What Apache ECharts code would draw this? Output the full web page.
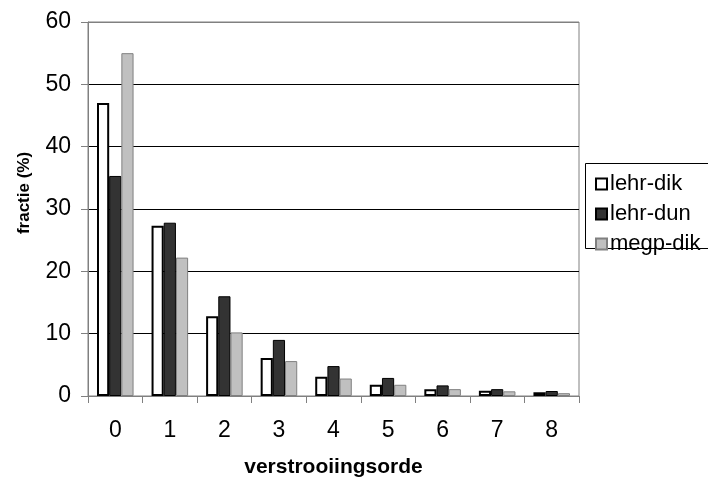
<!DOCTYPE html>
<html>
<head>
<meta charset="utf-8">
<script src="https://cdn.jsdelivr.net/npm/echarts@6/dist/echarts.min.js"></script>
<style>
  html, body { margin: 0; padding: 0; background: #fff; }
  #chart { width: 708px; height: 479px; }
</style>
</head>
<body>
<div id="chart"></div>
<script>
// Scattering orders on the x-axis
const orders = ['0', '1', '2', '3', '4', '5', '6', '7', '8'];
// Fraction (%) per scattering order for each configuration
const lehrDik = [47.0, 27.3, 12.8, 6.1, 3.1, 1.8, 1.1, 0.85, 0.6];
const lehrDun = [35.3, 27.8, 16.0, 9.0, 4.8, 2.9, 1.7, 1.1, 0.8];
const megpDik = [55.0, 22.2, 10.2, 5.6, 2.8, 1.8, 1.1, 0.75, 0.45];
const seriesNames = ['lehr-dik', 'lehr-dun', 'megp-dik'];
const yTicks = { min: 0, max: 60, step: 10 };
const xTitle = 'verstrooiingsorde';
const yTitle = 'fractie (%)';

const font = 'Liberation Sans, Arial, sans-serif';
const chart = echarts.init(document.getElementById('chart'));

const barStyles = [
  { color: '#ffffff', borderColor: '#000000', borderWidth: 2 },
  { color: '#333333', borderColor: '#000000', borderWidth: 1 },
  { color: '#c0c0c0', borderColor: '#808080', borderWidth: 1 }
];

chart.setOption({
  animation: false,
  backgroundColor: '#ffffff',
  textStyle: { fontFamily: font, color: '#000' },
  grid: {
    left: 88, top: 22, right: 129, bottom: 83,
    outerBoundsMode: 'none',
    containLabel: false,
    show: true, borderColor: '#808080', borderWidth: 1, backgroundColor: 'transparent'
  },
  graphic: [
    {
      // legend frame, running off the right edge
      type: 'rect',
      shape: { x: 585.5, y: 163.5, width: 140, height: 85 },
      style: { fill: '#fff', stroke: '#000', lineWidth: 1 },
      z: 0
    },
    {
      // y-axis title, sitting a little above the plot's middle
      type: 'text',
      x: 24, y: 193,
      rotation: Math.PI / 2,
      style: {
        text: yTitle, fill: '#000',
        font: 'bold 17px ' + font,
        align: 'center', verticalAlign: 'middle'
      }
    }
  ],
  legend: {
    orient: 'vertical',
    left: 590, top: 168,
    itemWidth: 11, itemHeight: 11,
    itemGap: 8,
    icon: 'rect',
    textStyle: { fontFamily: font, fontSize: 22, lineHeight: 22, color: '#000', padding: [0, 0, 0, -2] },
    data: seriesNames,
    z: 5
  },
  xAxis: {
    type: 'category',
    data: orders,
    name: xTitle,
    nameLocation: 'middle',
    nameGap: 61,
    nameTextStyle: { fontFamily: font, fontSize: 21, fontWeight: 'bold', color: '#000' },
    axisLine: { lineStyle: { color: '#808080', width: 1 } },
    axisTick: { show: true, length: 7, lineStyle: { color: '#808080' } },
    axisLabel: { fontFamily: font, fontSize: 23, color: '#000', margin: 23 }
  },
  yAxis: {
    type: 'value',
    min: yTicks.min, max: yTicks.max, interval: yTicks.step,
    axisLine: { show: true, lineStyle: { color: '#808080', width: 1 } },
    axisTick: { show: true, length: 7, lineStyle: { color: '#808080' } },
    axisLabel: { fontFamily: font, fontSize: 23, color: '#000', margin: 17 },
    splitLine: {
      show: true,
      lineStyle: { color: ['#808080', '#000', '#000', '#000', '#000', '#000', '#808080'], width: 1 }
    }
  },
  series: [lehrDik, lehrDun, megpDik].map((vals, i) => ({
    name: seriesNames[i],
    type: 'bar',
    data: vals,
    barGap: '0%',
    barCategoryGap: '33%',
    itemStyle: barStyles[i],
    z: 3
  }))
});
</script>
</body>
</html>
